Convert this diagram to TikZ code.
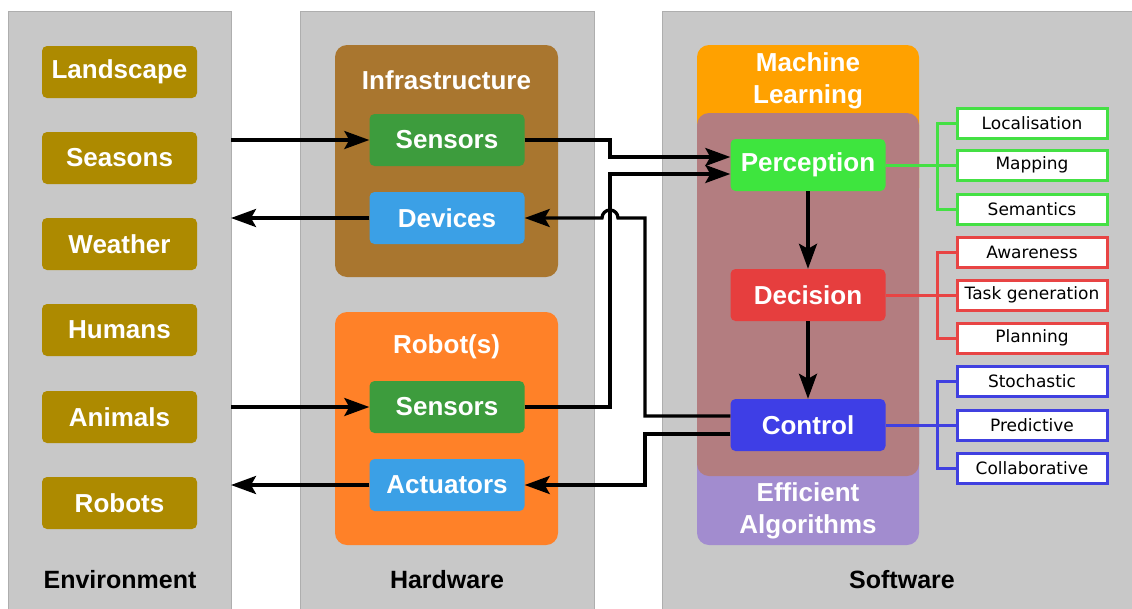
\documentclass[tikz,border=0pt]{standalone}
\usepackage{fontspec}
\setmainfont{Liberation Sans}
\newfontfamily\subfont{DejaVu Sans}
\usetikzlibrary{arrows.meta}

\definecolor{panelgray}{HTML}{C8C8C8}
\definecolor{paneledge}{HTML}{AEAEAE}
\definecolor{envgold}{HTML}{AD8A00}
\definecolor{infrabrown}{HTML}{A9762F}
\definecolor{robotorange}{HTML}{FF8128}
\definecolor{sensgreen}{HTML}{3D9C3D}
\definecolor{devblue}{HTML}{3BA0E6}
\definecolor{mlorange}{HTML}{FFA100}
\definecolor{corepink}{HTML}{B37D80}
\definecolor{algpurple}{HTML}{A28CCF}
\definecolor{pergreen}{HTML}{3EE53E}
\definecolor{decred}{HTML}{E63E3E}
\definecolor{ctrlblue}{HTML}{3E3EE6}
\definecolor{subgreen}{HTML}{44E044}
\definecolor{subred}{HTML}{E84444}
\definecolor{subblue}{HTML}{4040E0}

\tikzset{
  bigfont/.style={font=\fontsize{26}{31}\selectfont\bfseries},
  panel/.style={fill=panelgray, draw=paneledge, line width=1pt},
  group/.style={rounded corners=12pt},
  block/.style={bigfont, text=white, rounded corners=5pt, minimum width=155pt, minimum height=52pt, inner sep=0pt},
  envbox/.style={block, fill=envgold},
  sensbox/.style={block, fill=sensgreen},
  devbox/.style={block, fill=devblue},
  subbox/.style={draw=#1, line width=3pt, fill=white, minimum width=150pt, minimum height=30pt, inner sep=0pt, font=\subfont\fontsize{17}{20}\selectfont},
  conn/.style={draw=black, line width=3.3pt, -{Stealth[length=25pt,width=18pt,inset=5pt]}},
  tree/.style={draw=#1, line width=3pt},
  caption/.style={bigfont, text=black, font=\fontsize{25}{30}\selectfont\bfseries},
  grouptitle/.style={bigfont, text=white, align=center}
}

\begin{document}
\begin{tikzpicture}[x=1pt, y=-1pt]
\useasboundingbox (0,0) rectangle (1132,608);
\fill[white] (0,0) rectangle (1132,608);

% Background columns
\path[panel] (8,11) rectangle (231,612);
\path[panel] (300,11) rectangle (594,612);
\path[panel] (662,11) rectangle (1136,612);

\node[caption] (capenv) at (120,580) {Environment};
\node[caption] (caphw) at (447,580) {Hardware};
\node[caption] (capsw) at (902,580) {Software};

% Environment entries
\node[envbox] (land) at (119.5,72) {Landscape};
\node[envbox] (seas) at (119.5,158) {Seasons};
\node[envbox] (weat) at (119.5,244) {Weather};
\node[envbox] (hum)  at (119.5,330) {Humans};
\node[envbox] (anim) at (119.5,417) {Animals};
\node[envbox] (rob)  at (119.5,503) {Robots};

% Hardware groups
\fill[infrabrown, group] (335,45) rectangle (558,277);
\node[grouptitle] (infra) at (446.5,80) {Infrastructure};
\node[sensbox] (isens) at (447,140) {Sensors};
\node[devbox] (dev) at (447,218) {Devices};

\fill[robotorange, group] (335,312) rectangle (558,545);
\node[grouptitle] (robots) at (446.5,347) {Robot(s)};
\node[sensbox] (rsens) at (447,407) {Sensors};
\node[devbox] (act) at (447,485) {Actuators};

% Software layers
\fill[mlorange, group] (697,45) rectangle (919,200);
\fill[algpurple, group] (697,400) rectangle (919,545);
\fill[corepink, group] (697,113) rectangle (919,476);
\node[grouptitle] (ml) at (808,81) {Machine\\[1pt]Learning};
\node[grouptitle] (alg) at (808,511) {Efficient\\[1pt]Algorithms};

\node[block, fill=pergreen] (percep) at (808,165) {Perception};
\node[block, fill=decred] (dec) at (808,295) {Decision};
\node[block, fill=ctrlblue] (ctrl) at (808,425) {Control};

% Sub-tasks
\node[subbox=subgreen] (loc) at (1032,123) {Localisation};
\node[subbox=subgreen] (map) at (1032,165) {Mapping};
\node[subbox=subgreen] (sem) at (1032,209) {Semantics};
\node[subbox=subred] (aware) at (1032,252) {Awareness};
\node[subbox=subred] (task) at (1032,295) {Task generation};
\node[subbox=subred] (plan) at (1032,338) {Planning};
\node[subbox=subblue] (stoch) at (1032,381) {Stochastic};
\node[subbox=subblue] (pred) at (1032,425) {Predictive};
\node[subbox=subblue] (collab) at (1032,468) {Collaborative};

\coordinate (gt) at (937,0);
\draw[tree=subgreen] (percep.east) -- (map.west);
\draw[tree=subgreen] (loc.west) -- (loc.west -| gt) -- (sem.west -| gt) -- (sem.west);
\draw[tree=subred] (dec.east) -- (task.west);
\draw[tree=subred] (aware.west) -- (aware.west -| gt) -- (plan.west -| gt) -- (plan.west);
\draw[tree=subblue] (ctrl.east) -- (pred.west);
\draw[tree=subblue] (stoch.west) -- (stoch.west -| gt) -- (collab.west -| gt) -- (collab.west);

% Connectors
\coordinate (envedge) at (231,0);
\draw[conn] (isens.west -| envedge) -- (isens.west);
\draw[conn] (dev.west) -- (dev.west -| envedge);
\draw[conn] (rsens.west -| envedge) -- (rsens.west);
\draw[conn] (act.west) -- (act.west -| envedge);

\coordinate (j1) at (610,157);
\coordinate (j2) at (610,174);
\draw[conn] (isens.east) -| (j1) -- (percep.west |- j1);
\draw[conn] (rsens.east) -| (j2) -- (percep.west |- j2);

\coordinate (k1) at (645,218);
\coordinate (k2) at (645,485);
\draw[conn] ([yshift=9pt]ctrl.west) -| (k1) -- (618,218)
  arc[start angle=0, end angle=180, radius=8pt] -- (dev.east);
\draw[conn] ([yshift=-9pt]ctrl.west) -| (k2) -- (act.east);

\draw[conn] (percep.south) -- (dec.north);
\draw[conn] (dec.south) -- (ctrl.north);
\end{tikzpicture}
\end{document}
